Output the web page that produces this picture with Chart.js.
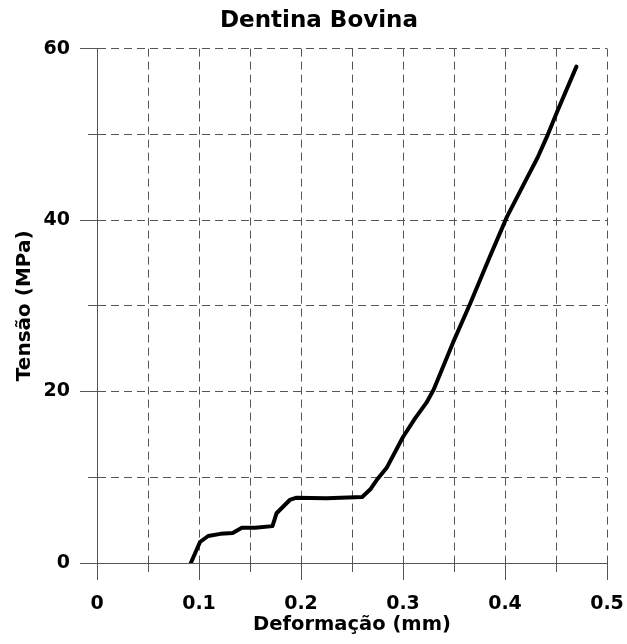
<!DOCTYPE html>
<html>
<head>
<meta charset="utf-8">
<script src="https://cdn.jsdelivr.net/npm/chart.js@4"></script>
<style>
  body { margin: 0; background: #fff; }
</style>
</head>
<body>
<canvas id="chart" width="627" height="644"></canvas>
<script>
// deformation (mm) and stress (MPa)
const strain = [0.092, 0.101, 0.109, 0.121, 0.133, 0.142, 0.155, 0.172, 0.176, 0.189, 0.195, 0.225, 0.260,
    0.268, 0.275, 0.284, 0.300, 0.312, 0.323, 0.330, 0.349, 0.366, 0.385, 0.402, 0.422, 0.432, 0.441, 0.451, 0.470];
const stress = [0, 2.45, 3.15, 3.4, 3.5, 4.1, 4.1, 4.3, 5.8, 7.35, 7.6, 7.55, 7.7,
    8.6, 9.8, 11.1, 14.7, 16.9, 18.7, 20.2, 25.7, 30.3, 35.7, 40.4, 45.0, 47.3, 49.7, 52.6, 57.9];

const xRange = [0, 0.5];
const yRange = [0, 60];
const xGridStep = 0.05, xLabelStep = 0.1;
const yGridStep = 10, yLabelStep = 20;

const gray = '#555';
const bold = size => ({ family: 'DejaVu Sans', weight: 'bold', size: size });

Chart.defaults.font.family = 'DejaVu Sans';
Chart.defaults.color = '#000';

new Chart(document.getElementById('chart'), {
    type: 'line',
    data: {
        datasets: [{
            data: strain.map((x, i) => ({ x: x, y: stress[i] })),
            borderColor: '#000',
            borderWidth: 4,
            borderCapStyle: 'round',
            borderJoinStyle: 'round',
            pointRadius: 0,
            tension: 0,
            xAxisID: 'x',
            yAxisID: 'y'
        }]
    },
    options: {
        responsive: false,
        animation: false,
        layout: { padding: { left: 31, right: 20, top: 0, bottom: 0 } },
        plugins: {
            legend: { display: false },
            tooltip: { enabled: false },
            title: {
                display: true,
                text: 'Dentina Bovina',
                color: '#000',
                font: bold(23),
                padding: { top: 7, bottom: 14 }
            }
        },
        scales: {
            x: {
                type: 'linear', position: 'bottom', weight: 0,
                min: xRange[0], max: xRange[1],
                ticks: { stepSize: xGridStep, display: false },
                grid: { color: gray, lineWidth: 1, tickLength: 9, tickBorderDash: [], tickColor: gray },
                border: { display: true, color: gray, width: 1, dash: [8, 5] },
                afterFit: s => { s.height = 0; }
            },
            x2: {
                type: 'linear', position: 'bottom', weight: 1,
                min: xRange[0], max: xRange[1],
                ticks: { stepSize: xLabelStep, font: bold(19), color: '#000', padding: 13, maxRotation: 0 },
                grid: { drawOnChartArea: false, color: gray, tickLength: 17, tickColor: gray },
                border: { display: false },
                title: { display: true, text: 'Deformação (mm)', font: bold(19.5), color: '#000', padding: { top: 0, bottom: 7 } },
                afterFit: s => { s.height = 81; s.paddingRight = 19; }
            },
            y: {
                type: 'linear', position: 'left', weight: 0,
                min: yRange[0], max: yRange[1],
                ticks: { stepSize: yGridStep, display: false },
                grid: { color: gray, lineWidth: 1, tickLength: 9, tickBorderDash: [], tickColor: gray },
                border: { display: true, color: gray, width: 1, dash: [8, 5] },
                afterFit: s => { s.width = 0; }
            },
            y2: {
                type: 'linear', position: 'left', weight: 1,
                min: yRange[0], max: yRange[1],
                ticks: { stepSize: yLabelStep, font: bold(19), color: '#000', padding: 10 },
                grid: { drawOnChartArea: false, color: gray, tickLength: 17, tickColor: gray },
                border: { display: false },
                title: { display: true, text: 'Tensão (MPa)', font: bold(20), color: '#000', padding: { top: -18, bottom: 0 } },
                afterFit: s => { s.width = 66; }
            }
        }
    }
});
</script>
</body>
</html>
